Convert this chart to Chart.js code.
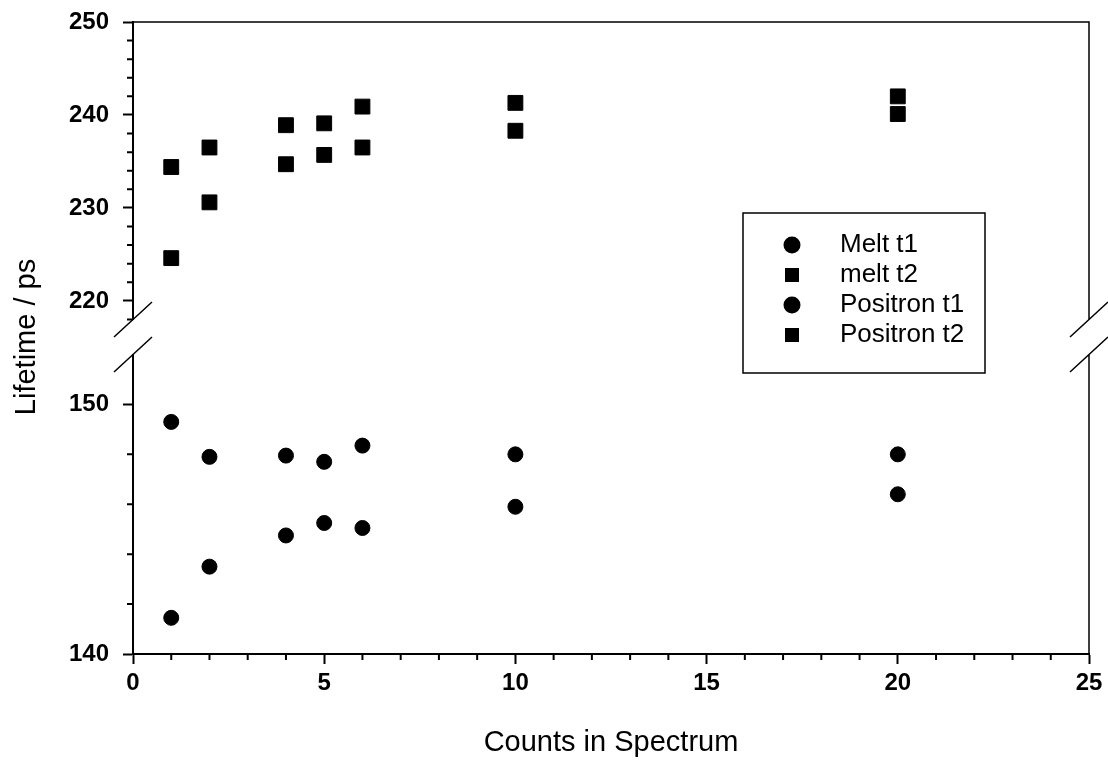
<!DOCTYPE html>
<html>
<head>
<meta charset="utf-8">
<script src="https://cdn.jsdelivr.net/npm/chart.js@4.4.1/dist/chart.umd.min.js"></script>
<style>
    html, body { margin: 0; padding: 0; background: #fff; }
    #wrap { width: 1108px; height: 760px; position: relative; }
</style>
</head>
<body>
<div id="wrap"><canvas id="lifetime_chart"></canvas></div>
<script>
const counts = [1, 2, 4, 5, 6, 10, 20];

const melt_t1 = [149.3, 147.9, 147.95, 147.7, 148.35, 148.0, 148.0];
const positron_t1 = [141.45, 143.5, 144.75, 145.25, 145.05, 145.9, 146.4];
const melt_t2 = [234.4, 236.5, 238.9, 239.1, 240.9, 241.3, 242.0];
const positron_t2 = [224.6, 230.6, 234.7, 235.7, 236.5, 238.3, 240.1];

const x_ticks = [0, 5, 10, 15, 20, 25];
const x_minor = [1, 2, 3, 4, 6, 7, 8, 9, 11, 12, 13, 14, 16, 17, 18, 19, 21, 22, 23, 24];
const top_ticks = [220, 230, 240, 250];
const top_minor = [218, 222, 224, 226, 228, 232, 234, 236, 238, 242, 244, 246, 248];
const bottom_ticks = [140, 150];
const bottom_minor = [142, 144, 146, 148];

const FONT = "'Liberation Sans', Arial, Helvetica, sans-serif";
const tick_font = { family: FONT, size: 24, weight: "bold" };

function points(values) {
    return counts.map((c, i) => ({ x: c, y: values[i] }));
}

// same width for every axis in the left stack, and no extra room for the end labels
function fixWidth(scale) {
    scale.width = 123;
    scale.paddingTop = 0;
    scale.paddingBottom = 0;
}

const axis_grid = {
    display: true,
    drawOnChartArea: false,
    drawTicks: true,
    tickLength: 10,
    tickColor: "#000",
    tickWidth: 2,
};
const axis_border = { display: true, color: "#000", width: 2 };

// short ticks between the labelled ones
const minor_ticks = {
    id: "minor_ticks",
    afterDraw(chart) {
        const { ctx, scales } = chart;
        ctx.save();
        ctx.strokeStyle = "#000";
        ctx.lineWidth = 2;
        ctx.beginPath();
        x_minor.forEach((v) => {
            const px = scales.x.getPixelForValue(v);
            ctx.moveTo(px, scales.x.top);
            ctx.lineTo(px, scales.x.top + 6);
        });
        [[scales.yTop, top_minor], [scales.yBot, bottom_minor]].forEach(([s, vals]) => {
            vals.forEach((v) => {
                const py = s.getPixelForValue(v);
                ctx.moveTo(s.right, py);
                ctx.lineTo(s.right - 6, py);
            });
        });
        ctx.stroke();
        ctx.restore();
    },
};

// top / right frame and the axis-break slashes
const frame = {
    id: "frame",
    afterDraw(chart) {
        const { ctx, chartArea: a, scales } = chart;
        const top = scales.yTop;
        const bot = scales.yBot;
        ctx.save();
        ctx.strokeStyle = "#000";
        ctx.lineWidth = 1.5;
        ctx.beginPath();
        ctx.moveTo(a.left, top.top);
        ctx.lineTo(a.right, top.top);
        ctx.lineTo(a.right, top.bottom);
        ctx.moveTo(a.right, bot.top);
        ctx.lineTo(a.right, bot.bottom);
        [a.left, a.right].forEach((x) => {
            [top.bottom, bot.top].forEach((y) => {
                ctx.moveTo(x - 19, y + 17.5);
                ctx.lineTo(x + 19, y - 17.5);
            });
        });
        ctx.stroke();
        ctx.restore();
    },
};

const boxed_legend = {
    id: "boxed_legend",
    afterDraw(chart, args, opts) {
        const { ctx } = chart;
        ctx.save();
        ctx.strokeStyle = "#000";
        ctx.lineWidth = 1.5;
        ctx.strokeRect(opts.x, opts.y, opts.w, opts.h);
        ctx.fillStyle = "#000";
        ctx.font = "26px " + FONT;
        ctx.textBaseline = "middle";
        chart.data.datasets.forEach((ds, i) => {
            const cy = opts.y + opts.first + i * opts.step;
            const mx = opts.x + 49;
            ctx.beginPath();
            if (ds.pointStyle === "circle") {
                ctx.arc(mx, cy, 8.5, 0, Math.PI * 2);
                ctx.fill();
            } else {
                ctx.fillRect(mx - 7, cy - 7, 14, 14);
            }
            ctx.fillText(ds.label, opts.x + 97, cy);
        });
        ctx.restore();
    },
};

const lifetime_config = {
    type: "scatter",
    data: {
        datasets: [
            {
                label: "Melt t1",
                data: points(melt_t1),
                yAxisID: "yBot",
                pointStyle: "circle",
                pointRadius: 7.5,
                backgroundColor: "#000",
                borderColor: "#000",
                borderWidth: 1,
            },
            {
                label: "melt t2",
                data: points(melt_t2),
                yAxisID: "yTop",
                pointStyle: "rect",
                pointRadius: 10.5,
                backgroundColor: "#000",
                borderColor: "#000",
                borderWidth: 1,
            },
            {
                label: "Positron t1",
                data: points(positron_t1),
                yAxisID: "yBot",
                pointStyle: "circle",
                pointRadius: 7.5,
                backgroundColor: "#000",
                borderColor: "#000",
                borderWidth: 1,
            },
            {
                label: "Positron t2",
                data: points(positron_t2),
                yAxisID: "yTop",
                pointStyle: "rect",
                pointRadius: 10.5,
                backgroundColor: "#000",
                borderColor: "#000",
                borderWidth: 1,
            },
        ],
    },
    options: {
        responsive: true,
        maintainAspectRatio: false,
        animation: false,
        layout: { padding: { left: 10, right: 19, top: 22, bottom: 0 } },
        plugins: {
            legend: { display: false },
            tooltip: { enabled: false },
            boxed_legend: { x: 743, y: 213, w: 242, h: 160, first: 32, step: 30 },
        },
        scales: {
            x: {
                type: "linear",
                position: "bottom",
                min: 0,
                max: 25,
                afterBuildTicks: (s) => { s.ticks = x_ticks.map((v) => ({ value: v })); },
                afterFit: (s) => { s.height = 106; },
                grid: axis_grid,
                border: axis_border,
                ticks: { color: "#000", font: tick_font, padding: 5, maxRotation: 0 },
                title: {
                    display: true,
                    text: "Counts in Spectrum",
                    color: "#000",
                    font: { family: FONT, size: 29 },
                    padding: { top: 0, bottom: 0 },
                },
            },
            yTop: {
                type: "linear",
                position: "left",
                stack: "lifetime",
                stackWeight: 297,
                weight: 3,
                min: 218,
                max: 250,
                afterBuildTicks: (s) => { s.ticks = top_ticks.map((v) => ({ value: v })); },
                afterFit: fixWidth,
                grid: axis_grid,
                border: axis_border,
                ticks: { color: "#000", font: tick_font, padding: 14 },
            },
            yGap: {
                type: "linear",
                position: "left",
                stack: "lifetime",
                stackWeight: 35,
                weight: 2,
                afterFit: fixWidth,
                grid: { display: false },
                border: { display: false },
                ticks: { display: false },
                title: {
                    display: true,
                    text: "Lifetime / ps",
                    color: "#000",
                    font: { family: FONT, size: 29 },
                    padding: { top: 0, bottom: 0 },
                },
            },
            yBot: {
                type: "linear",
                position: "left",
                stack: "lifetime",
                stackWeight: 299,
                weight: 1,
                min: 140,
                max: 152,
                afterBuildTicks: (s) => { s.ticks = bottom_ticks.map((v) => ({ value: v })); },
                afterFit: fixWidth,
                grid: axis_grid,
                border: axis_border,
                ticks: { color: "#000", font: tick_font, padding: 14 },
            },
        },
    },
    plugins: [minor_ticks, frame, boxed_legend],
};

const lifetime_chart = new Chart(
    document.getElementById("lifetime_chart"),
    lifetime_config
);
</script>
</body>
</html>
